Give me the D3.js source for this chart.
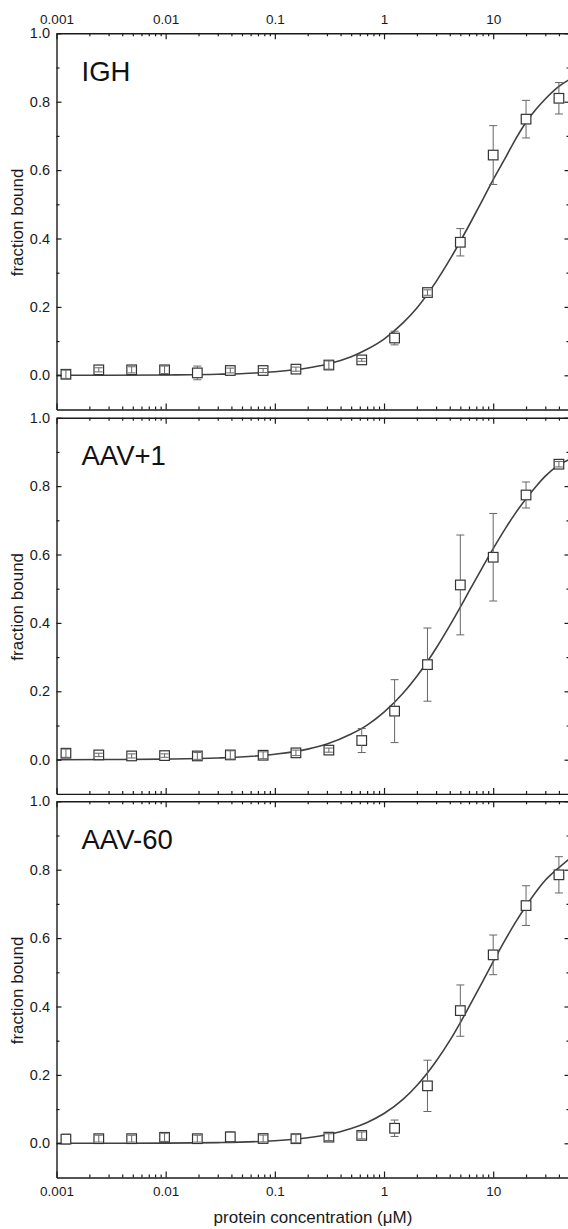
<!DOCTYPE html>
<html>
<head>
<meta charset="utf-8">
<script src="https://cdn.jsdelivr.net/npm/d3@7"></script>
<style>
  body { margin: 0; background: #fff; }
  svg { display: block; font-family: "Liberation Sans", Arial, sans-serif; }
</style>
</head>
<body>
<div id="chart"></div>
<script>
// binding curves, three DNA substrates, log concentration axis

const panelNames = ['IGH', 'AAV+1', 'AAV-60'];

// protein concentration (µM), 2-fold dilution series
const concentrations = [0.00122, 0.00244, 0.00488, 0.00977, 0.0195, 0.0391, 0.0781, 0.156,
                        0.3125, 0.625, 1.25, 2.5, 5, 10, 20, 40];

const ighBound  = [0.003, 0.016, 0.016, 0.016, 0.007, 0.014, 0.014, 0.018, 0.030, 0.045, 0.109, 0.242, 0.389, 0.644, 0.749, 0.810];
const ighErr    = [0.012, 0.006, 0.009, 0.011, 0.020, 0.007, 0.006, 0.006, 0.012, 0.004, 0.020, 0.008, 0.040, 0.086, 0.055, 0.046];

const aav1Bound = [0.019, 0.014, 0.011, 0.012, 0.011, 0.014, 0.013, 0.020, 0.028, 0.056, 0.142, 0.278, 0.511, 0.592, 0.774, 0.864];
const aav1Err   = [0.012, 0.005, 0.006, 0.005, 0.010, 0.012, 0.010, 0.008, 0.006, 0.035, 0.092, 0.107, 0.146, 0.128, 0.038, 0.008];

const aav60Bound = [0.012, 0.0135, 0.0135, 0.0175, 0.0135, 0.019, 0.014, 0.0135, 0.018, 0.023, 0.044, 0.168, 0.388, 0.551, 0.695, 0.785];
const aav60Err   = [0.015, 0.010, 0.010, 0.012, 0.010, 0.015, 0.010, 0.012, 0.010, 0.010, 0.024, 0.075, 0.075, 0.058, 0.058, 0.053];

// fitted curves
const fitConc  = [0.001, 0.003, 0.01, 0.03, 0.1, 0.2, 0.3, 0.5, 0.7, 1, 1.5, 2, 3, 4, 5, 6, 8, 10, 13, 16, 20, 25, 30, 40, 50];
const ighFit   = [0.000, 0.000, 0.001, 0.003, 0.0105, 0.0215, 0.0325, 0.054, 0.076, 0.106, 0.154, 0.197, 0.274, 0.338, 0.392, 0.438, 0.513, 0.572, 0.637, 0.690, 0.740, 0.780, 0.808, 0.845, 0.865];
const aav1Fit  = [0.000, 0.0005, 0.0016, 0.0048, 0.016, 0.031, 0.046, 0.075, 0.101, 0.139, 0.195, 0.244, 0.326, 0.392, 0.446, 0.492, 0.563, 0.617, 0.677, 0.721, 0.763, 0.801, 0.829, 0.862, 0.878];
const aav60Fit = [0.000, 0.0002, 0.0006, 0.002, 0.0075, 0.016, 0.025, 0.043, 0.061, 0.087, 0.129, 0.169, 0.240, 0.300, 0.353, 0.399, 0.473, 0.531, 0.597, 0.646, 0.694, 0.738, 0.769, 0.806, 0.832];

const xMajor = [0.001, 0.01, 0.1, 1, 10];
const xTickLabels = ['0.001', '0.01', '0.1', '1', '10'];
const yMajor = [0, 0.2, 0.4, 0.6, 0.8, 1.0];
const yMinor = [0.1, 0.3, 0.5, 0.7, 0.9];

const panels = [
    { name: panelNames[0], bound: ighBound, err: ighErr, fit: ighFit },
    { name: panelNames[1], bound: aav1Bound, err: aav1Err, fit: aav1Fit },
    { name: panelNames[2], bound: aav60Bound, err: aav60Err, fit: aav60Fit }
];

const W = 568, H = 1229;
const panelTops = [33.3, 417.7, 801.3];
const panelH = 376.2;
const ink = '#1a1a1a';

const svg = d3.select('#chart').append('svg')
    .attr('width', W)
    .attr('height', H);

const x = d3.scaleLog().domain([0.001, 50]).range([56.5, 569.5]);
const xMinor = x.ticks().filter(t => !xMajor.some(m => Math.abs(m - t) / m < 1e-6) && t < 50);

function styleAxis(g, fs) {
    g.selectAll('path').attr('stroke', ink).attr('stroke-width', 1.4);
    g.selectAll('line').attr('stroke', ink).attr('stroke-width', 1.2);
    g.selectAll('text').attr('fill', ink).attr('font-size', fs)
        .attr('font-family', '"Liberation Sans", Arial, sans-serif');
}

panels.forEach((p, i) => {
    const top = panelTops[i];
    const bottom = top + panelH;
    const y = d3.scaleLinear().domain([-0.1, 1.0]).range([bottom, top]);
    const g = svg.append('g');

    const clipId = 'clip' + i;
    g.append('clipPath').attr('id', clipId)
        .append('rect')
        .attr('x', x.range()[0]).attr('y', top)
        .attr('width', x.range()[1] - x.range()[0]).attr('height', panelH);

    // fit line
    const line = d3.line()
        .x((d, j) => x(fitConc[j]))
        .y(d => y(d))
        .curve(d3.curveMonotoneX);
    g.append('path')
        .attr('clip-path', `url(#${clipId})`)
        .attr('d', line(p.fit))
        .attr('fill', 'none')
        .attr('stroke', '#404040')
        .attr('stroke-width', 1.6);

    // markers
    const half = 4.8;
    const pts = concentrations.map((c, j) => ({ c: c, v: p.bound[j], e: p.err[j] }));
    g.selectAll('rect.pt').data(pts).enter().append('rect')
        .attr('class', 'pt')
        .attr('x', d => x(d.c) - half)
        .attr('y', d => y(d.v) - half)
        .attr('width', half * 2)
        .attr('height', half * 2)
        .attr('fill', '#fff')
        .attr('stroke', '#333')
        .attr('stroke-width', 1.2);

    // error bars
    const eb = g.selectAll('g.err').data(pts).enter().append('g')
        .attr('class', 'err')
        .attr('stroke', '#666')
        .attr('stroke-width', 1);
    eb.each(function(d) {
        const e = d3.select(this);
        const cx = x(d.c), cy = y(d.v);
        const yt = y(d.v + d.e), yb = y(d.v - d.e);
        if (cy - yt > half) {
            e.append('line').attr('x1', cx).attr('x2', cx).attr('y1', yt).attr('y2', cy - half);
            e.append('line').attr('x1', cx).attr('x2', cx).attr('y1', cy + half).attr('y2', yb);
        } else {
            e.append('line').attr('x1', cx).attr('x2', cx).attr('y1', yt).attr('y2', yb);
        }
        e.append('line').attr('x1', cx - 4).attr('x2', cx + 4).attr('y1', yt).attr('y2', yt);
        e.append('line').attr('x1', cx - 4).attr('x2', cx + 4).attr('y1', yb).attr('y2', yb);
    });

    // axes
    const left = g.append('g').attr('transform', `translate(${x.range()[0]},0)`);
    left.call(d3.axisLeft(y).tickValues(yMajor).tickSize(-5).tickSizeOuter(0)
        .tickPadding(6.5).tickFormat(d3.format('.1f')));
    left.append('g').call(d3.axisLeft(y).tickValues(yMinor).tickSize(-3).tickFormat(''))
        .select('.domain').remove();
    styleAxis(left, '14.5px');

    const right = g.append('g').attr('transform', `translate(${x.range()[1]},0)`);
    right.call(d3.axisRight(y).tickValues(yMajor).tickSize(-5).tickSizeOuter(0).tickFormat(''));
    right.append('g').call(d3.axisRight(y).tickValues(yMinor).tickSize(-3).tickFormat(''))
        .select('.domain').remove();
    styleAxis(right, '14.5px');

    const topAx = g.append('g').attr('transform', `translate(0,${top})`);
    topAx.call(d3.axisTop(x).tickValues(xMajor).tickSize(-6).tickSizeOuter(0).tickPadding(9.5)
        .tickFormat((d, j) => i === 0 ? xTickLabels[j] : ''));
    topAx.append('g').call(d3.axisTop(x).tickValues(xMinor).tickSize(-3).tickFormat(''))
        .select('.domain').remove();
    styleAxis(topAx, '13.5px');

    const botAx = g.append('g').attr('transform', `translate(0,${bottom})`);
    botAx.call(d3.axisBottom(x).tickValues(xMajor).tickSize(-6).tickSizeOuter(0).tickPadding(9)
        .tickFormat((d, j) => i === 2 ? xTickLabels[j] : ''));
    botAx.append('g').call(d3.axisBottom(x).tickValues(xMinor).tickSize(-3).tickFormat(''))
        .select('.domain').remove();
    styleAxis(botAx, '13.5px');

    // panel label
    g.append('text')
        .attr('x', 81.5)
        .attr('y', top + 47.5)
        .attr('font-size', '27.5px')
        .attr('fill', '#111')
        .text(p.name);

    // y title
    g.append('text')
        .attr('transform', `translate(23,${(top + bottom) / 2 + 1}) rotate(-90)`)
        .attr('text-anchor', 'middle')
        .attr('font-size', '17px')
        .attr('fill', ink)
        .text('fraction bound');
});

svg.append('text')
    .attr('x', (x.range()[0] + x.range()[1]) / 2)
    .attr('y', 1223)
    .attr('text-anchor', 'middle')
    .attr('font-size', '17px')
    .attr('fill', ink)
    .text('protein concentration (μM)');
</script>
</body>
</html>
